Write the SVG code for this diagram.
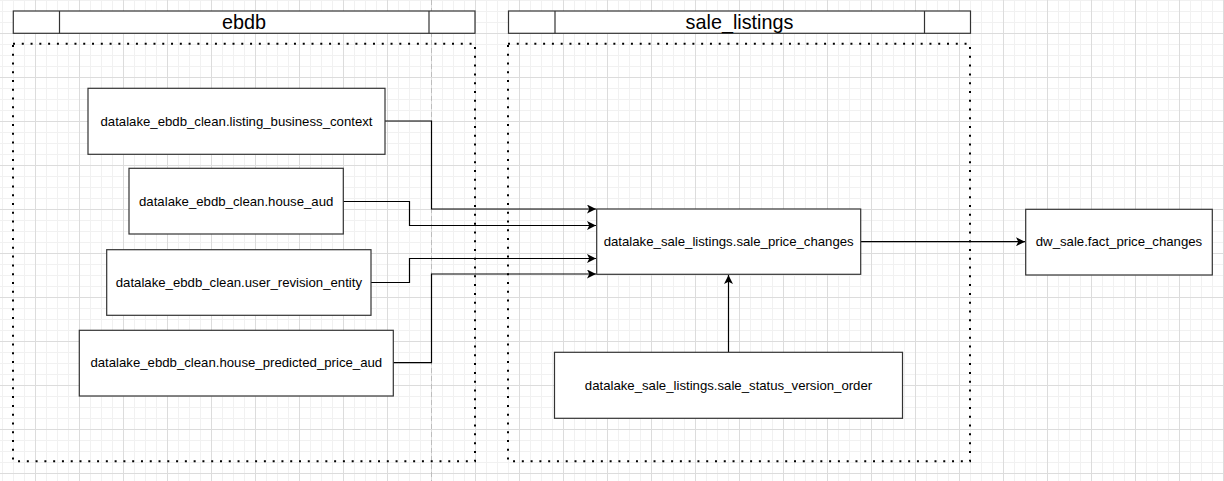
<svg xmlns="http://www.w3.org/2000/svg" width="1224" height="481" viewBox="0 0 1224 481">
<defs>
<pattern id="grid" x="35" y="33" width="44" height="44" patternUnits="userSpaceOnUse">
<path d="M11.5 0V44M22.5 0V44M33.5 0V44M0 11.5H44M0 22.5H44M0 33.5H44" stroke="#f1f1f1" stroke-width="1" fill="none"/>
<path d="M0.5 0V44M0 0.5H44" stroke="#dcdcdc" stroke-width="1" fill="none"/>
</pattern>
<marker id="arr" viewBox="0 0 10 10" refX="10" refY="5" markerWidth="9" markerHeight="9" markerUnits="userSpaceOnUse" orient="auto">
<path d="M0 0L10 5L0 10L2.5 5Z" fill="#000"/>
</marker>
<style>
.box{fill:#fff;stroke:#333;stroke-width:1.2}
.hdr{fill:#fff;stroke:#333;stroke-width:1.2}
.dot{fill:none;stroke:#000;stroke-width:2;stroke-dasharray:2 6.78}
.lbl{font-family:"Liberation Sans",Arial,sans-serif;font-size:13.2px;fill:#000;text-anchor:middle}
.ttl{font-family:"Liberation Sans",Arial,sans-serif;font-size:19.8px;fill:#000;text-anchor:middle}
.edge{fill:none;stroke:#000;stroke-width:1.2}
</style>
</defs>
<rect width="1224" height="481" fill="#fff"/>
<rect width="1224" height="481" fill="url(#grid)"/>
<line x1="431.5" y1="0" x2="431.5" y2="481" stroke="#bdbdbd" stroke-width="1" stroke-dasharray="5 3"/>

<g id="group-ebdb">
<rect class="dot" x="13" y="43.7" width="462" height="417.6"/>
<rect class="hdr" x="13.3" y="11" width="461.7" height="22.3"/>
<line x1="59.5" y1="11" x2="59.5" y2="33.3" stroke="#333" stroke-width="1.2"/>
<line x1="429" y1="11" x2="429" y2="33.3" stroke="#333" stroke-width="1.2"/>
<text class="ttl" x="244" y="29">ebdb</text>
</g>

<g id="group-sale_listings">
<rect class="dot" x="508" y="43.7" width="462" height="417.6"/>
<rect class="hdr" x="508.5" y="11" width="462" height="22.3"/>
<line x1="555" y1="11" x2="555" y2="33.3" stroke="#333" stroke-width="1.2"/>
<line x1="924.5" y1="11" x2="924.5" y2="33.3" stroke="#333" stroke-width="1.2"/>
<text class="ttl" x="739.5" y="29">sale_listings</text>
</g>

<g id="connectors">
<path class="edge" d="M385 121H431.5V209H596" marker-end="url(#arr)"/>
<path class="edge" d="M343 201.5H409.5V225.5H596" marker-end="url(#arr)"/>
<path class="edge" d="M371 282.5H409.5V258.5H596" marker-end="url(#arr)"/>
<path class="edge" d="M393 362.7H431.5V274H596" marker-end="url(#arr)"/>
<path class="edge" d="M861 241.7H1025" marker-end="url(#arr)"/>
<path class="edge" d="M728.5 352V275" marker-end="url(#arr)"/>
</g>

<g id="node-listing_business_context">
<rect class="box" x="88" y="88.3" width="297" height="66"/>
<text class="lbl" x="236.5" y="125.6">datalake_ebdb_clean.listing_business_context</text>
</g>
<g id="node-house_aud">
<rect class="box" x="129" y="168.3" width="214.3" height="65.7"/>
<text class="lbl" x="236.2" y="206">datalake_ebdb_clean.house_aud</text>
</g>
<g id="node-user_revision_entity">
<rect class="box" x="106.7" y="249.7" width="264.3" height="65.6"/>
<text class="lbl" x="238.9" y="287.2">datalake_ebdb_clean.user_revision_entity</text>
</g>
<g id="node-house_predicted_price_aud">
<rect class="box" x="79.3" y="330.3" width="314" height="65.7"/>
<text class="lbl" x="236.3" y="367.3">datalake_ebdb_clean.house_predicted_price_aud</text>
</g>
<g id="node-sale_price_changes">
<rect class="box" x="596.7" y="209" width="264" height="65.3"/>
<text class="lbl" x="728.7" y="246.3">datalake_sale_listings.sale_price_changes</text>
</g>
<g id="node-sale_status_version_order">
<rect class="box" x="554.5" y="352.3" width="348" height="66"/>
<text class="lbl" x="728.5" y="389.6">datalake_sale_listings.sale_status_version_order</text>
</g>
<g id="node-fact_price_changes">
<rect class="box" x="1025.7" y="209.3" width="186.6" height="65.7"/>
<text class="lbl" x="1119" y="246.3">dw_sale.fact_price_changes</text>
</g>
</svg>
